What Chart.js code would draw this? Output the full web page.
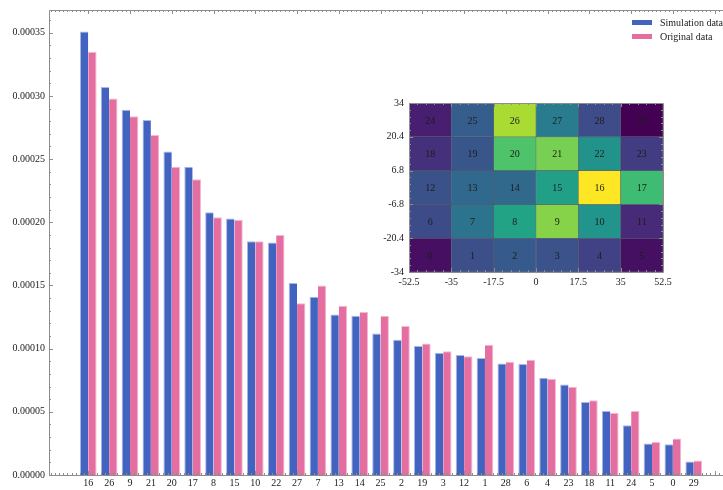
<!DOCTYPE html>
<html>
<head>
<meta charset="utf-8">
<script src="https://cdn.jsdelivr.net/npm/chart.js@4/dist/chart.umd.min.js"></script>
<style>
  html, body { margin: 0; padding: 0; background: #ffffff; }
  #wrap { position: relative; width: 723px; height: 490px; overflow: hidden; }
  #main { position: absolute; left: 0; top: 0; }
  #inset { position: absolute; left: 350px; top: 90px; }
</style>
</head>
<body>
<div id="wrap">
  <canvas id="main" width="723" height="490"></canvas>
  <canvas id="inset" width="330" height="205"></canvas>
</div>
<script>
// Cell ids, ordered by simulated value (bar categories)
const cellIds = [16, 26, 9, 21, 20, 17, 8, 15, 10, 22, 27, 7, 13, 14, 25, 2, 19, 3, 12, 1, 28, 6, 4, 23, 18, 11, 24, 5, 0, 29];

const simulation = [0.000351, 0.000307, 0.000289, 0.000281, 0.000256, 0.000244, 0.000208, 0.000203, 0.000185, 0.000184,
                    0.000152, 0.000141, 0.000127, 0.000126, 0.000112, 0.000107, 0.000102, 0.0000965, 0.000095, 0.0000925,
                    0.0000883, 0.0000878, 0.000077, 0.0000717, 0.0000578, 0.0000507, 0.0000393, 0.0000249, 0.0000243, 0.0000107];

const original = [0.000335, 0.000298, 0.000284, 0.000269, 0.000244, 0.000234, 0.000204, 0.000202, 0.000185, 0.000190,
                  0.000136, 0.000150, 0.000134, 0.000129, 0.000126, 0.000118, 0.000104, 0.000098, 0.000094, 0.000103,
                  0.0000896, 0.0000912, 0.0000762, 0.0000699, 0.0000591, 0.0000493, 0.0000507, 0.0000262, 0.0000288, 0.0000114];

const yTicks = [0, 0.00005, 0.0001, 0.00015, 0.0002, 0.00025, 0.0003, 0.00035];

// Field grid (6 columns x 5 rows), cell id = row * 6 + column, row 0 at the bottom
const gridXEdges = [-52.5, -35, -17.5, 0, 17.5, 35, 52.5];
const gridYEdges = [-34, -20.4, -6.8, 6.8, 20.4, 34];

// Viridis colormap stops
const viridisStops = ['#440154', '#482475', '#414487', '#355f8d', '#2a788e', '#21918c',
                      '#22a884', '#44bf70', '#7ad151', '#bddf26', '#fde725'];

const FONT = { family: "'Liberation Serif', 'DejaVu Serif', serif", size: 10 };
const TEXT = '#222222';
const FRAME = '#8e8e8e';
const BLUE = '#4264c0';
const PINK = '#e56ea1';

function hexToRgb(h) {
  return [parseInt(h.slice(1, 3), 16), parseInt(h.slice(3, 5), 16), parseInt(h.slice(5, 7), 16)];
}
function viridis(t) {
  t = Math.max(0, Math.min(1, t));
  const p = t * (viridisStops.length - 1);
  const i = Math.min(Math.floor(p), viridisStops.length - 2);
  const f = p - i;
  const a = hexToRgb(viridisStops[i]), b = hexToRgb(viridisStops[i + 1]);
  const c = a.map((v, k) => Math.round(v + (b[k] - v) * f));
  return `rgb(${c[0]},${c[1]},${c[2]})`;
}

// Inward frame ticks for the main plot
const mainFrame = {
  id: 'mainFrame',
  afterDatasetsDraw(chart) {
    const { ctx, chartArea: a, scales } = chart;
    ctx.save();
    ctx.strokeStyle = FRAME;
    ctx.lineWidth = 1;
    ctx.beginPath();
    ctx.moveTo(a.left + 0.5, a.bottom + 0.5);
    ctx.lineTo(a.left + 0.5, a.top + 0.5);
    ctx.lineTo(a.right, a.top + 0.5);
    ctx.moveTo(a.left, a.bottom + 0.5);
    ctx.lineTo(a.right, a.bottom + 0.5);
    // y ticks
    for (let k = 0; k <= 36; k++) {
      const py = Math.round(scales.y.getPixelForValue(k * 0.00001)) + 0.5;
      const len = k % 5 === 0 ? 4 : 2;
      ctx.moveTo(a.left, py);
      ctx.lineTo(a.left + len, py);
    }
    // x ticks top and bottom
    for (let k = -9; k <= 152; k++) {
      const v = k * 0.2;
      if (v < scales.x.min || v > scales.x.max) continue;
      const px = Math.round(scales.x.getPixelForValue(v)) + 0.5;
      const len = k % 10 === 0 ? 4 : 2;
      ctx.moveTo(px, a.top);
      ctx.lineTo(px, a.top + len);
      ctx.moveTo(px, a.bottom);
      ctx.lineTo(px, a.bottom - len);
    }
    ctx.stroke();
    ctx.restore();
  },
  afterDraw(chart) {
    // legend swatches and labels
    const { ctx, chartArea: a } = chart;
    ctx.save();
    ctx.font = `${FONT.size}px ${FONT.family}`;
    ctx.textBaseline = 'middle';
    ctx.textAlign = 'left';
    chart.data.datasets.forEach((ds, i) => {
      const x = a.right - 91, y = a.top + 10 + i * 14;
      ctx.fillStyle = ds.backgroundColor;
      ctx.fillRect(x, y, 20, 5);
      ctx.fillStyle = TEXT;
      ctx.fillText(ds.label, x + 28, y + 3);
    });
    ctx.restore();
  }
};

new Chart(document.getElementById('main'), {
  type: 'bar',
  data: {
    datasets: [
      {
        label: 'Simulation data',
        data: simulation.map((v, i) => ({ x: i, y: v })),
        backgroundColor: BLUE,
        borderColor: '#aab7e3',
        borderWidth: { left: 1, top: 1, right: 0, bottom: 0 }
      },
      {
        label: 'Original data',
        data: original.map((v, i) => ({ x: i, y: v })),
        backgroundColor: PINK,
        borderColor: '#f4b8d2',
        borderWidth: { left: 0, top: 1, right: 1, bottom: 0 }
      }
    ]
  },
  options: {
    responsive: false,
    animation: false,
    devicePixelRatio: 1,
    layout: { padding: { top: 9, right: 0, left: 0, bottom: 0 } },
    datasets: { bar: { categoryPercentage: 0.8, barPercentage: 1 } },
    plugins: { legend: { display: false }, tooltip: { enabled: false } },
    scales: {
      x: {
        type: 'linear',
        offset: false,
        min: -1.88,
        max: 30.4,
        grid: { display: false, drawTicks: false, offset: false },
        border: { display: false },
        ticks: { padding: 2, font: FONT, color: TEXT, maxRotation: 0, autoSkip: false,
                 callback: (v) => (cellIds[v] !== undefined ? String(cellIds[v]) : '') },
        afterBuildTicks: (s) => { s.ticks = cellIds.map((_, i) => ({ value: i })); },
        afterFit: (s) => { s.height = 15; }
      },
      y: {
        type: 'linear',
        min: 0,
        max: 0.000368,
        grid: { display: false, drawTicks: false },
        border: { display: false },
        ticks: { padding: 4, font: FONT, color: TEXT, callback: (v) => v.toFixed(5) },
        afterBuildTicks: (s) => { s.ticks = yTicks.map((v) => ({ value: v })); },
        afterFit: (s) => { s.width = 49; }
      }
    }
  },
  plugins: [mainFrame]
});

// Inset: field map coloured by simulated value
const simMin = Math.min(...simulation), simMax = Math.max(...simulation);
const cells = [];
for (let r = 0; r < gridYEdges.length - 1; r++) {
  for (let c = 0; c < gridXEdges.length - 1; c++) {
    const id = r * (gridXEdges.length - 1) + c;
    const v = simulation[cellIds.indexOf(id)];
    cells.push({
      x: (gridXEdges[c] + gridXEdges[c + 1]) / 2,
      y: [gridYEdges[r], gridYEdges[r + 1]],
      id: id,
      color: viridis((v - simMin) / (simMax - simMin))
    });
  }
}

const insetDecor = {
  id: 'insetDecor',
  afterDatasetsDraw(chart) {
    const { ctx, chartArea: a, scales } = chart;
    ctx.save();
    // cell numbers
    ctx.font = `${FONT.size}px ${FONT.family}`;
    ctx.fillStyle = '#1c1c1c';
    ctx.textAlign = 'center';
    ctx.textBaseline = 'middle';
    chart.getDatasetMeta(0).data.forEach((bar, i) => {
      const p = bar.getProps(['x', 'y', 'base'], true);
      ctx.fillText(String(cells[i].id), p.x, (p.y + p.base) / 2 + 1);
    });
    // frame with inward ticks
    ctx.strokeStyle = FRAME;
    ctx.lineWidth = 1;
    ctx.beginPath();
    ctx.rect(Math.round(a.left) + 0.5, Math.round(a.top) + 0.5,
             Math.round(a.right - a.left), Math.round(a.bottom - a.top));
    for (let c = 0; c < gridXEdges.length - 1; c++) {
      for (let k = 0; k < 5; k++) {
        const v = gridXEdges[c] + (gridXEdges[c + 1] - gridXEdges[c]) * k / 5;
        const px = Math.round(scales.x.getPixelForValue(v)) + 0.5;
        const len = k === 0 ? 4 : 2;
        ctx.moveTo(px, a.top); ctx.lineTo(px, a.top + len);
        ctx.moveTo(px, a.bottom); ctx.lineTo(px, a.bottom - len);
      }
    }
    for (let r = 0; r < gridYEdges.length - 1; r++) {
      for (let k = 0; k < 5; k++) {
        const v = gridYEdges[r] + (gridYEdges[r + 1] - gridYEdges[r]) * k / 5;
        const py = Math.round(scales.y.getPixelForValue(v)) + 0.5;
        const len = k === 0 ? 4 : 2;
        ctx.moveTo(a.left, py); ctx.lineTo(a.left + len, py);
        ctx.moveTo(a.right, py); ctx.lineTo(a.right - len, py);
      }
    }
    ctx.stroke();
    ctx.restore();
  }
};

new Chart(document.getElementById('inset'), {
  type: 'bar',
  data: {
    datasets: [{
      data: cells,
      backgroundColor: cells.map((c) => c.color),
      borderColor: 'rgba(25,25,45,0.55)',
      borderWidth: 0.6,
      borderSkipped: false,
      categoryPercentage: 1,
      barPercentage: 1
    }]
  },
  options: {
    responsive: false,
    animation: false,
    devicePixelRatio: 1,
    layout: { padding: { top: 13, right: 17, left: 0, bottom: 0 } },
    plugins: { legend: { display: false }, tooltip: { enabled: false } },
    scales: {
      x: {
        type: 'linear',
        offset: false,
        min: gridXEdges[0],
        max: gridXEdges[gridXEdges.length - 1],
        grid: { display: false, drawTicks: false, offset: false },
        border: { display: false },
        ticks: { padding: 4, font: FONT, color: TEXT, maxRotation: 0, autoSkip: false,
                 callback: (v) => String(v) },
        afterBuildTicks: (s) => { s.ticks = gridXEdges.map((v) => ({ value: v })); },
        afterFit: (s) => { s.height = 23; }
      },
      y: {
        type: 'linear',
        min: gridYEdges[0],
        max: gridYEdges[gridYEdges.length - 1],
        grid: { display: false, drawTicks: false },
        border: { display: false },
        ticks: { padding: 5, font: FONT, color: TEXT, autoSkip: false, callback: (v) => String(v) },
        afterBuildTicks: (s) => { s.ticks = gridYEdges.map((v) => ({ value: v })); },
        afterFit: (s) => { s.width = 59; }
      }
    }
  },
  plugins: [insetDecor]
});
</script>
</body>
</html>
